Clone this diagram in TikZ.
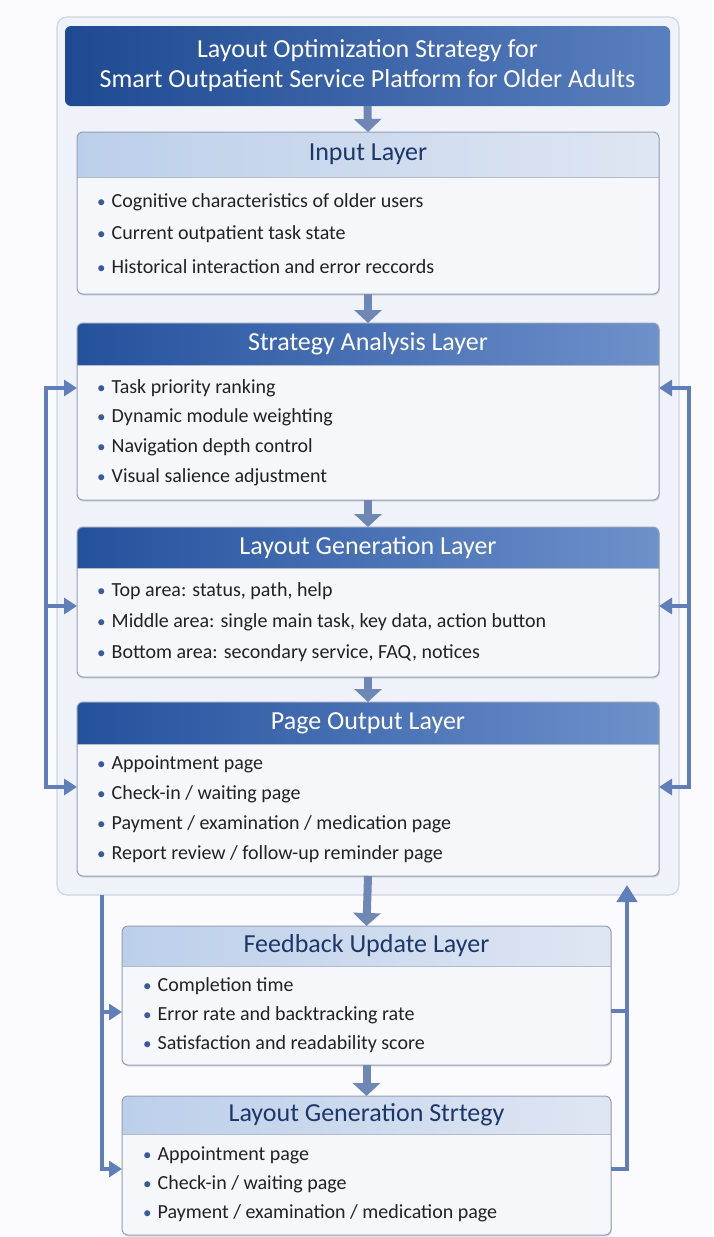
\documentclass[tikz,border=0pt]{standalone}
\usepackage{fontspec}
\setmainfont{Carlito}
\usetikzlibrary{arrows.meta,shadows}

\definecolor{pagebg}{HTML}{FBFBFD}
\definecolor{framefill}{HTML}{EFF2F9}
\definecolor{framedraw}{HTML}{CDD4E2}
\definecolor{bodyfill}{HTML}{F5F7FB}
\definecolor{bodydraw}{HTML}{939FB6}
\definecolor{darkL}{HTML}{24519D}
\definecolor{darkM}{HTML}{3463AE}
\definecolor{darkR}{HTML}{6E91CB}
\definecolor{titleL}{HTML}{1E4A92}
\definecolor{titleM}{HTML}{2B5AA2}
\definecolor{titleR}{HTML}{5A7FBE}
\definecolor{lightL}{HTML}{BCCFEA}
\definecolor{lightR}{HTML}{DFE6F3}
\definecolor{navy}{HTML}{1D3768}
\definecolor{itemtext}{HTML}{222222}
\definecolor{bulletblue}{HTML}{3A5A9A}
\definecolor{flowcol}{HTML}{6F87B5}
\definecolor{loopcol}{HTML}{5F7EBA}

\tikzset{
  frame/.style={rounded corners=10pt, fill=framefill, draw=framedraw, line width=1.2pt,
    inner sep=0pt, outer sep=0pt},
  titlebox/.style={rounded corners=6pt, left color=titleL, middle color=titleM, right color=titleR,
    text=white, align=center, inner sep=0pt, outer sep=0pt,
    font=\fontsize{26}{30}\selectfont},
  bodybox/.style={rounded corners=6pt, fill=bodyfill, inner sep=0pt, outer sep=0pt,
    drop shadow={shadow xshift=0.8pt, shadow yshift=-1.6pt, opacity=0.25, fill=black!50}},
  bodyborder/.style={rounded corners=6pt, draw=bodydraw, line width=1pt},
  darkhead/.style={left color=darkL, middle color=darkM, right color=darkR},
  lighthead/.style={left color=lightL, right color=lightR},
  darkhead text/.style={text=white, font=\fontsize{26}{28}\selectfont, inner sep=0pt},
  lighthead text/.style={text=navy, font=\fontsize{26}{28}\selectfont, inner sep=0pt},
  item/.style={anchor=west, text=itemtext, inner sep=0pt, font=\fontsize{20}{24}\selectfont},
  flow/.style={draw=flowcol, line width=8pt, -{Triangle[width=27pt,length=13pt]}},
  loopline/.style={draw=loopcol, line width=3.5pt},
  looptip/.style={-{Triangle[width=16pt,length=13pt]}},
  loopboth/.style={{Triangle[width=16pt,length=13pt]}-{Triangle[width=16pt,length=13pt]}},
  uparrow/.style={draw=loopcol, line width=4.5pt, -{Triangle[width=20pt,length=17pt]}},
}

% #1 name, #2 left, #3 top, #4 right, #5 bottom, #6 header bottom, #7 header style, #8 title
\newcommand\layerbox[8]{%
  \node[bodybox, anchor=north west, minimum width={#4-#2}, minimum height={#5-#3}] (#1) at (#2,#3) {};
  \path[#7] (#2,#6) {[rounded corners=6pt] -- (#2,#3) -- (#4,#3)} -- (#4,#6) -- cycle;
  \draw[bodydraw!70, line width=0.6pt] (#2,#6) -- (#4,#6);
  \draw[bodyborder] (#1.north west) rectangle (#1.south east);
  \node[#7 text] (#1-head) at ({(#2+#4)/2},{(#3+#6)/2}) {#8};
}

% #1 name prefix, #2 bullet x, #3 first line y, #4 line gap, #5 entries
\newcommand\itemlist[5]{%
  \foreach \t [count=\i] in {#5} {
    \node[item] (#1-\i) at (#2,{#3+(\i-1)*#4})
      {\textcolor{bulletblue}{\fontsize{17}{20}\selectfont\textbullet}\hspace{6pt}\t};
  }
}

\begin{document}
\begin{tikzpicture}[x=1pt, y=-1pt]
\useasboundingbox[fill=pagebg] (0,0) rectangle (713,1237);

% outer frame and title
\node[frame, anchor=north west, minimum width=622, minimum height=878] (frame) at (57,17) {};
\node[titlebox, anchor=north west, minimum width=605, minimum height=80] (title) at (65,26)
  {Layout Optimization Strategy for\\Smart Outpatient Service Platform for Older Adults};

% layers inside the frame
\layerbox{input}{77}{132}{659}{294}{177}{lighthead}{Input Layer}
\itemlist{in}{97}{202}{32.5}{Cognitive characteristics of older users,
  Current outpatient task state, Historical interaction and error reccords}

\layerbox{strategy}{77}{323}{659}{500}{365}{darkhead}{Strategy Analysis Layer}
\itemlist{sa}{97}{388}{29.7}{Task priority ranking, Dynamic module weighting,
  Navigation depth control, Visual salience adjustment}

\layerbox{laygen}{77}{527}{659}{677}{568}{darkhead}{Layout Generation Layer}
\itemlist{lg}{97}{591}{31}{{Top area: status, path, help},
  {Middle area: single main task, key data, action button},
  {Bottom area: secondary service, FAQ, notices}}

\layerbox{pageout}{77}{702}{659}{876}{744}{darkhead}{Page Output Layer}
\itemlist{po}{97}{764}{30}{Appointment page, Check-in / waiting page,
  Payment / examination / medication page, Report review / follow-up reminder page}

% layers below the frame
\layerbox{feedback}{122}{926}{611}{1065}{966}{lighthead}{Feedback Update Layer}
\itemlist{fb}{143}{986}{29}{Completion time, Error rate and backtracking rate,
  Satisfaction and readability score}

\layerbox{lgs}{122}{1096}{611}{1235}{1134}{lighthead}{Layout Generation Strtegy}
\itemlist{ls}{143}{1155}{29}{Appointment page, Check-in / waiting page,
  Payment / examination / medication page}

% main flow
\draw[flow] (title.south) -- (input.north);
\draw[flow] (input.south) -- (strategy.north);
\draw[flow] (strategy.south) -- (laygen.north);
\draw[flow] (laygen.south) -- (pageout.north);
\draw[flow] (pageout.south) -- (feedback.north);
\draw[flow] (feedback.south) -- (lgs.north);

% upper feedback loops
\coordinate (Lt) at (46,388);
\coordinate (Lm) at (46,606);
\coordinate (Lb) at (46,787);
\coordinate (Rt) at (689,388);
\coordinate (Rm) at (689,606);
\coordinate (Rb) at (689,787);
\draw[loopline, loopboth] (Lt -| strategy.west) -- (Lt) -- (Lb) -- (Lb -| pageout.west);
\draw[loopline, looptip] (Lm) -- (Lm -| laygen.west);
\draw[loopline, loopboth] (Rt -| strategy.east) -- (Rt) -- (Rb) -- (Rb -| pageout.east);
\draw[loopline, looptip] (Rm) -- (Rm -| laygen.east);

% lower loops
\coordinate (Ls) at (102,895);
\coordinate (L1) at (102,1012);
\coordinate (L2) at (102,1169);
\coordinate (R1) at (627,1011);
\coordinate (R2) at (627,1169);
\coordinate (uptip) at (627,885);
\draw[loopline, looptip, line width=4.5pt] (Ls) -- (L2) -- (L2 -| lgs.west);
\draw[loopline, looptip, line width=4.5pt] (L1) -- (L1 -| feedback.west);
\draw[uparrow] (R2 -| lgs.east) -- (R2) -- (uptip);
\draw[loopline, line width=4.5pt] (R1 -| feedback.east) -- (R1);
\end{tikzpicture}
\end{document}
